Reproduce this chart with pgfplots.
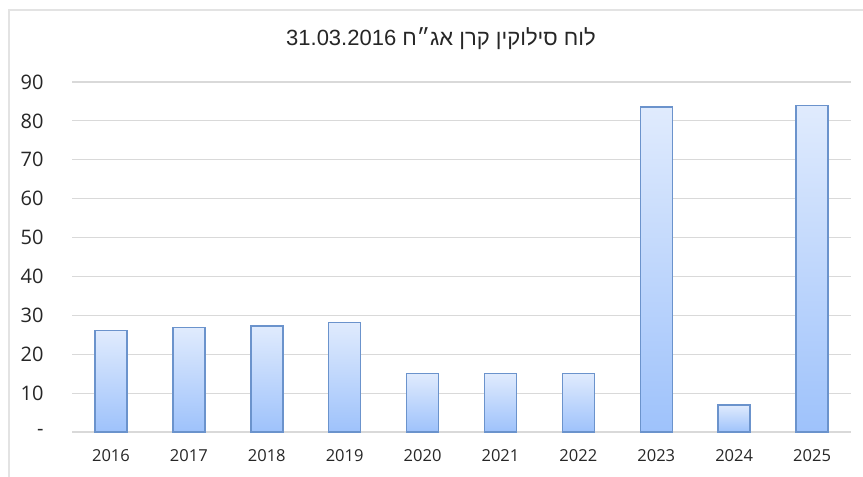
\documentclass[border=0pt]{standalone}
\usepackage{fontspec}
\setmainfont{Open Sans}
\newfontfamily\hebfont[Script=Hebrew]{Liberation Sans}
\TeXXeTstate=1
\usepackage{pgfplots}
\pgfplotsset{compat=1.18}
\definecolor{baredge}{HTML}{6B93CC}
\definecolor{bartop}{HTML}{E0EBFD}
\definecolor{barbot}{HTML}{9EC2FB}
\definecolor{gridc}{HTML}{D9D9D9}
\definecolor{txt}{HTML}{262626}
\pgfplotsset{mybar/.style={ybar, bar width=32pt, bar shift=0pt, draw=baredge, line width=1.5pt, top color=bartop, bottom color=barbot, mark=none, solid}}
\begin{document}
\begin{tikzpicture}
\path[use as bounding box] (0,0) rectangle (863pt,477pt);
\draw[color=gray!22, line width=1.6pt] (9pt,0pt) -- (9pt,467pt) -- (863pt,467pt);
\node[text=txt, font=\hebfont\fontsize{22}{26}\selectfont] at (441pt,438pt) {\beginR לוח סילוקין קרן אג״ח \beginL 31.03.2016\endL\endR};
\begin{axis}[
  at={(72pt,45pt)},
  scale only axis,
  width=779pt, height=350pt,
  xmin=-0.5, xmax=9.5,
  ymin=0, ymax=90,
  axis x line=bottom, axis y line=left,
  axis line style={draw=none},
  ymajorgrids,
  grid style={gridc, line width=1.2pt},
  ytick={0,10,...,90},
  yticklabels={-,10,20,30,40,50,60,70,80,90},
  xtick={0,...,9},
  xticklabels={2016,2017,2018,2019,2020,2021,2022,2023,2024,2025},
  major tick length=0pt,
  /pgf/number format/assume math mode=true,
  yticklabel style={font=\fontsize{20}{24}\selectfont, text=txt, anchor=east, xshift=-25pt},
  xticklabel style={font=\fontsize{16.5}{20}\selectfont, text=txt, anchor=north, yshift=-14pt},
  clip=false,
]
\addplot[mybar] coordinates {(0,26.1)};
\addplot[mybar] coordinates {(1,26.9)};
\addplot[mybar] coordinates {(2,27.3)};
\addplot[mybar] coordinates {(3,28.2)};
\addplot[mybar] coordinates {(4,15.1)};
\addplot[mybar] coordinates {(5,15.1)};
\addplot[mybar] coordinates {(6,15.1)};
\addplot[mybar] coordinates {(7,83.6)};
\addplot[mybar] coordinates {(8,7.0)};
\addplot[mybar] coordinates {(9,84.0)};
\end{axis}
\end{tikzpicture}
\end{document}
